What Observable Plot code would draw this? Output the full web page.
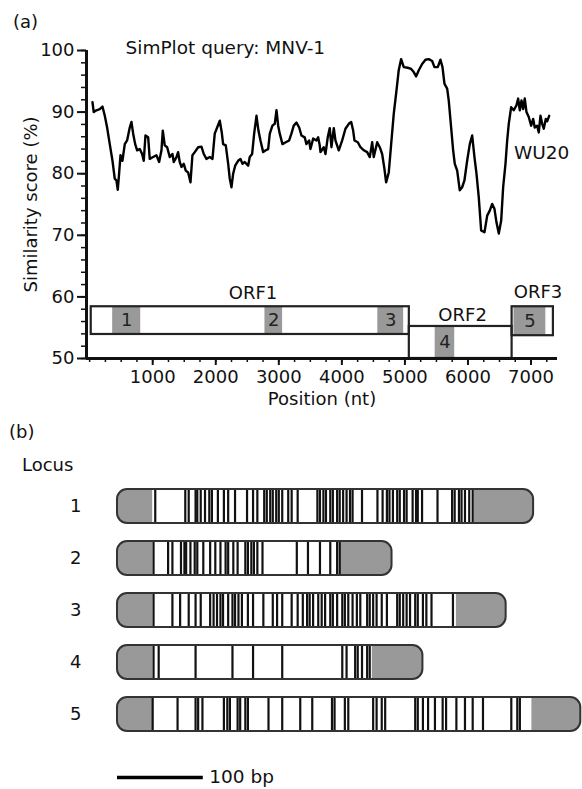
<!DOCTYPE html>
<html><head><meta charset="utf-8">
<script src="https://cdn.jsdelivr.net/npm/d3@7"></script>
<script src="https://cdn.jsdelivr.net/npm/@observablehq/plot@0.6"></script>
<style>
html,body{margin:0;padding:0;background:#fff;}
#root{position:relative;width:582px;height:789px;overflow:hidden;font-family:"DejaVu Sans",sans-serif;color:#111;}
#root svg{position:absolute;left:0;}
.lbl{position:absolute;font-size:18px;line-height:18px;white-space:nowrap;}
</style></head><body><div id="root"></div>
<script>
// ---------- Panel (a): SimPlot similarity profile ----------
const position = [45,65,108,160,203,240,277,319,362,398,425,446,467,489,520,557,594,636,663,690,722,753,795,832,858,885,928,953,1007,1059,1102,1139,1160,1191,1229,1271,1313,1334,1377,1403,1429,1456,1493,1524,1562,1599,1630,1667,1721,1773,1810,1852,1905,1948,1984,2022,2064,2095,2117,2159,2197,2222,2249,2276,2308,2355,2392,2424,2460,2514,2539,2577,2609,2646,2677,2709,2752,2793,2831,2857,2899,2936,2963,2990,3015,3058,3110,3164,3200,3237,3280,3323,3359,3411,3438,3481,3502,3545,3597,3624,3649,3661,3713,3740,3776,3808,3835,3872,3898,3951,4005,4057,4110,4148,4179,4200,4253,4295,4348,4401,4443,4481,4506,4560,4601,4639,4675,4702,4744,4782,4823,4866,4902,4940,4982,5045,5099,5140,5178,5220,5273,5326,5378,5432,5469,5521,5564,5596,5627,5670,5695,5733,5765,5791,5829,5870,5908,5944,5987,6029,6067,6103,6135,6171,6209,6262,6305,6346,6384,6420,6452,6489,6527,6558,6595,6622,6647,6685,6726,6769,6796,6822,6849,6875,6901,6928,6964,7002,7034,7059,7097,7123,7150,7177,7202,7234,7256,7288];
const similarity = [91.6,90.0,90.3,90.5,90.9,89.4,87.5,84.8,82.1,79.2,78.9,77.4,80.0,83.0,82.1,84.8,85.4,87.5,88.4,86.5,84.8,83.8,84.0,83.2,82.1,86.2,85.9,82.4,82.7,83.0,81.9,83.8,87.0,84.6,84.3,82.7,83.2,81.9,82.7,83.5,81.9,81.1,81.6,80.5,80.2,78.6,83.0,83.5,84.3,84.4,83.2,82.4,82.7,82.4,86.5,87.5,88.6,86.7,84.8,84.6,81.6,79.2,77.8,80.0,81.3,82.1,82.4,81.6,81.9,81.3,82.7,83.2,86.5,89.4,87.0,85.4,83.5,83.8,84.0,86.5,87.8,88.1,90.3,87.8,86.5,84.8,85.1,85.4,86.5,87.8,88.3,87.5,86.2,85.9,84.8,85.4,84.0,85.7,85.4,85.9,84.6,83.5,84.3,83.2,85.9,87.4,84.3,87.4,85.4,83.8,85.4,87.3,88.1,88.4,87.0,85.4,85.1,84.3,83.8,83.5,82.7,85.1,82.7,85.1,84.3,83.2,80.8,78.6,80.2,84.8,89.7,93.5,96.8,98.6,97.3,97.2,97.0,96.5,95.8,96.8,97.8,98.5,98.6,98.3,97.3,97.3,98.5,97.3,94.6,93.8,91.9,87.5,83.8,81.6,80.5,77.3,77.8,78.9,82.1,84.8,86.2,82.7,80.0,76.2,70.8,70.5,73.2,74.0,75.1,74.3,72.1,70.3,72.4,77.8,81.6,85.4,88.1,90.8,90.3,91.1,92.2,90.3,91.9,90.5,92.2,90.0,89.2,87.8,88.9,87.5,87.8,86.7,89.4,88.1,87.3,88.9,88.5,89.4];

const xTicks = [1000, 2000, 3000, 4000, 5000, 6000, 7000];
const yTicks = [50, 60, 70, 80, 90, 100];

const orfNames  = ["ORF1", "ORF2", "ORF3"];
const orfStart  = [25, 5070, 6700];
const orfEnd    = [5070, 6700, 7355];
const orfLow    = [53.9, 50, 53.7];
const orfHigh   = [58.4, 55.2, 58.4];
const orfLabelX = [2590, 5915, 7110];
const orfLabelY = [60.6, 57.1, 60.7];

const regionNames = ["1", "2", "3", "4", "5"];
const regionStart = [365, 2780, 4570, 5480, 6730];
const regionEnd   = [810, 3060, 4980, 5790, 7235];
const regionOrf   = [0, 0, 0, 1, 2];

const queryLabel = "SimPlot query: MNV-1";
const seriesLabel = "WU20";

// ---------- Panel (b): loci ----------
const loci        = ["1", "2", "3", "4", "5"];
const locusLength = [485, 320, 453, 356, 540];
const flankLeft   = [41, 41, 41, 41, 41];
const flankRight  = [416, 260, 395, 297, 483];
const sites = [
  [44,79,83,91,93,97,102,107,110,117,124,129,137,151,158,163,171,174,178,181,185,188,192,199,203,210,233,236,240,243,248,251,256,259,263,267,271,274,285,303,309,314,317,321,326,329,334,337,344,348,350,355,373,390,393,398,401,405,410,414],
  [42,59,64,74,78,80,85,90,93,100,108,114,120,126,129,135,140,149,152,156,159,163,169,209,222,236,248,256,259],
  [42,64,73,83,91,97,108,112,116,120,123,129,134,137,141,145,152,158,170,181,186,192,203,210,216,221,224,228,234,238,242,248,251,256,262,265,269,274,279,283,291,294,298,302,308,314,326,329,333,337,341,347,350,356,360,366,391],
  [42,48,91,134,158,192,262,267,277,280,285,291,294],
  [41,70,91,94,99,124,128,131,140,143,149,152,176,192,213,227,250,253,265,269,298,302,308,312,347,350,356,362,370,379,383,395,405,414,426,459,466,469]
];
const scaleBar = [{label: "100 bp", from: 0, to: 100}];

// ---------- build tables ----------
const profile = position.map((p, i) => ({position: p, similarity: similarity[i]}));
const orfs = orfNames.map((n, i) => ({name: n, start: orfStart[i], end: orfEnd[i], low: orfLow[i], high: orfHigh[i], lx: orfLabelX[i], ly: orfLabelY[i]}));
const regions = regionNames.map((n, i) => ({name: n, start: regionStart[i], end: regionEnd[i], low: orfLow[regionOrf[i]], high: orfHigh[regionOrf[i]]}));
const bars = loci.map((l, i) => ({locus: l, start: 0, end: locusLength[i], gl: flankLeft[i], gr: flankRight[i]}));
const snps = loci.flatMap((l, i) => sites[i].map(p => ({locus: l, pos: p})));

const FONT = "'DejaVu Sans', sans-serif";
const xDomain = [-50, 7420];
const minorX = d3.range(0, 7300, 250);
const minorY = d3.range(50, 101, 2);

const plotA = Plot.plot({
  width: 582, height: 410,
  marginTop: 50, marginBottom: 52, marginLeft: 86, marginRight: 25,
  style: {fontFamily: FONT, fontSize: "18px", color: "#111", background: "transparent", overflow: "visible"},
  x: {domain: xDomain, label: null},
  y: {domain: [50, 100], label: null},
  marks: [
    Plot.axisX(minorX, {tickSize: 4, text: null, strokeWidth: 1.5, label: null}),
    Plot.axisX(xTicks, {tickSize: 7, tickPadding: 5, strokeWidth: 2, label: null, fontSize: 18, tickFormat: d => String(d)}),
    Plot.axisY(minorY, {tickSize: 5, text: null, strokeWidth: 1.5, label: null}),
    Plot.axisY(yTicks, {tickSize: 9, tickPadding: 3, strokeWidth: 2, label: null, fontSize: 18, tickFormat: d => String(d)}),
    Plot.rect(orfs, {x1: "start", x2: "end", y1: "low", y2: "high", fill: "white"}),
    Plot.rect(regions, {x1: "start", x2: "end", y1: "low", y2: "high", fill: "#999"}),
    Plot.rect(orfs, {x1: "start", x2: "end", y1: "low", y2: "high", fill: "none", stroke: "#222", strokeWidth: 2.2}),
    Plot.text(regions, {x: d => (d.start + d.end) / 2, y: d => (d.low + d.high) / 2, text: "name", fontSize: 18, fill: "#222"}),
    Plot.text(orfs, {x: "lx", y: "ly", text: "name", fontSize: 18}),
    Plot.line(profile, {x: "position", y: "similarity", stroke: "#000", strokeWidth: 2.4}),
    Plot.ruleX([xDomain[0]], {strokeWidth: 3, stroke: "#111"}),
    Plot.ruleY([50], {strokeWidth: 3, stroke: "#111"}),
    Plot.text([queryLabel], {frameAnchor: "top-left", dx: 39, dy: -2, textAnchor: "start", lineAnchor: "middle", fontSize: 18.5}),
    Plot.text([seriesLabel], {x: 6730, y: 83.4, textAnchor: "start", fontSize: 18.5}),
    Plot.text(["Similarity score (%)"], {frameAnchor: "left", dx: -55, rotate: -90, textAnchor: "middle", lineAnchor: "middle", fontSize: 18}),
    Plot.text(["Position (nt)"], {frameAnchor: "bottom", dy: 41, textAnchor: "middle", lineAnchor: "middle", fontSize: 18})
  ]
});

const bTop = 445;
const plotB = Plot.plot({
  width: 582, height: 310,
  marginTop: 477.6 - bTop, marginBottom: 310 - (741.4 - bTop), marginLeft: 117, marginRight: 0,
  style: {fontFamily: FONT, fontSize: "18px", color: "#111", background: "transparent", overflow: "visible"},
  x: {domain: [0, 542], axis: null},
  y: {domain: loci, paddingInner: 0.355, paddingOuter: 0.1775, label: null},
  marks: [
    Plot.barX(bars, {x1: "start", x2: "end", y: "locus", fill: "#999", rx: 10}),
    Plot.barX(bars, {x1: "gl", x2: "gr", y: "locus", fill: "white"}),
    Plot.tickX(snps, {x: "pos", y: "locus", stroke: "#111", strokeWidth: 2.2}),
    Plot.barX(bars, {x1: "start", x2: "end", y: "locus", fill: "none", stroke: "#333", strokeWidth: 2, rx: 10}),
    Plot.axisY({tickSize: 0, tickPadding: 36, label: null, fontSize: 18})
  ]
});

const cTop = 762;
const plotC = Plot.plot({
  width: 582, height: 30,
  marginTop: 0, marginBottom: 0, marginLeft: 117, marginRight: 0,
  style: {fontFamily: FONT, fontSize: "18px", color: "#111", background: "transparent", overflow: "visible"},
  x: {domain: [0, 542], axis: null},
  y: {type: "point", domain: scaleBar.map(d => d.label), axis: null},
  marks: [
    Plot.ruleY(scaleBar, {x1: "from", x2: "to", y: "label", strokeWidth: 3.5, stroke: "#000"}),
    Plot.text(scaleBar, {x: "to", y: "label", text: "label", textAnchor: "start", dx: 6, fontSize: 18.5})
  ]
});

const root = document.getElementById("root");
plotA.style.top = "0px"; root.appendChild(plotA);
plotB.style.top = bTop + "px"; root.appendChild(plotB);
plotC.style.top = cTop + "px"; root.appendChild(plotC);

function addLabel(text, left, top) {
  const d = document.createElement("div");
  d.className = "lbl"; d.textContent = text;
  d.style.left = left + "px"; d.style.top = top + "px";
  root.appendChild(d);
}
addLabel("(a)", 13, 13);
addLabel("(b)", 9, 423);
addLabel("Locus", 22, 456);
</script></body></html>
